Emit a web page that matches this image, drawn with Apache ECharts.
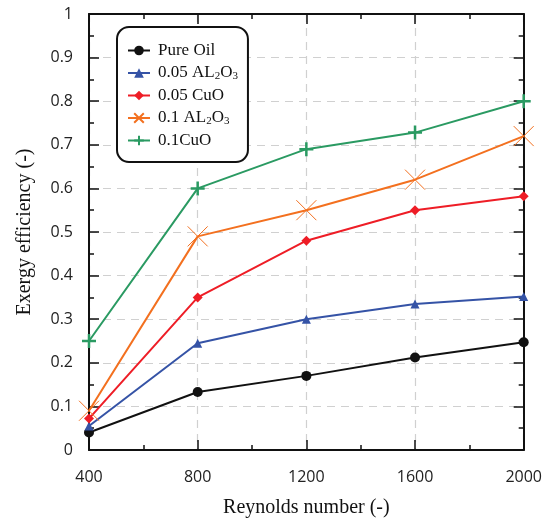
<!DOCTYPE html>
<html><head><meta charset="utf-8">
<script src="https://cdn.jsdelivr.net/npm/echarts@6/dist/echarts.min.js"></script>
<style>html,body{margin:0;padding:0;background:#fff}#c{width:545px;height:523px}</style>
</head><body><div id="c"></div>
<script>
const reynolds = [400, 800, 1200, 1600, 2000];
const pureOil   = [0.040, 0.133, 0.170, 0.212, 0.247];
const al005     = [0.055, 0.245, 0.300, 0.335, 0.352];
const cuo005    = [0.072, 0.350, 0.480, 0.550, 0.582];
const al01      = [0.090, 0.490, 0.550, 0.620, 0.720];
const cuo01     = [0.250, 0.600, 0.690, 0.728, 0.800];
const seriesNames = ['Pure Oil', '0.05 AL2O3', '0.05 CuO', '0.1 AL2O3', '0.1CuO'];
const legendLabels = ['Pure Oil', '0.05 AL{sub|2}O{sub|3}', '0.05 CuO', '0.1 AL{sub|2}O{sub|3}', '0.1CuO'];
const xAxisName = 'Reynolds number (-)';
const yAxisName = 'Exergy efficiency (-)';

const SERIF = 'Liberation Serif';
const SANS = 'Open Sans';
const pairs = arr => reynolds.map((x, i) => [x, arr[i]]);
const colors = ['#111111', '#3553a6', '#ee1d26', '#f3701f', '#2a9a62'];
const dataSets = [pureOil, al005, cuo005, al01, cuo01];
const symbols = ['circle', 'triangle', 'diamond', 'path://M0,0L10,10M10,0L0,10', 'path://M5,0L5,10M0,5L10,5'];
const sizes = [10, 9, 10, 20, 14];

const series = dataSets.map((d, i) => {
  const stroked = i >= 3;
  return {
    name: seriesNames[i], type: 'line', data: pairs(d),
    symbol: symbols[i], symbolSize: sizes[i], showAllSymbol: true,
    lineStyle: { color: colors[i], width: 2 },
    itemStyle: stroked ? { color: 'none', borderColor: colors[i], borderWidth: i === 3 ? 1 : 2.5 } : { color: colors[i] },
    emphasis: { disabled: true }, animation: false, z: 3
  };
});

const tickCommon = { show: true, inside: true, length: 10, lineStyle: { color: '#111', width: 1.5 } };
const minorCommon = { show: true, splitNumber: 2, length: 5, lineStyle: { color: '#111', width: 1.5 } };
const axisLineCommon = { show: true, onZero: false, lineStyle: { color: '#111', width: 2 } };
const dashed = { show: true, lineStyle: { color: '#d0d0d0', type: [8, 6], width: 1.2 } };

const chart = echarts.init(document.getElementById('c'));
chart.setOption({
  animation: false,
  backgroundColor: '#fff',
  grid: { left: 89, right: 16, top: 14, bottom: 73 },
  legend: {
    left: 117, top: 27, orient: 'vertical',
    data: seriesNames,
    formatter: n => legendLabels[seriesNames.indexOf(n)],
    itemWidth: 22, itemHeight: 12, itemGap: 5,
    padding: [15, 10, 13, 10],
    borderColor: '#111', borderWidth: 2, borderRadius: 12,
    backgroundColor: '#fff',
    textStyle: { fontFamily: SERIF, fontSize: 17, lineHeight: 16, color: '#111', padding: [0, 0, 0, 3],
      rich: { sub: { fontFamily: SERIF, fontSize: 11, lineHeight: 16, color: '#111', padding: [7, 0, 0, 0] } } }
  },
  xAxis: [{
    type: 'value', min: 400, max: 2000, interval: 400,
    name: xAxisName, nameLocation: 'middle', nameGap: 48,
    nameTextStyle: { fontFamily: SERIF, fontSize: 20, color: '#111' },
    axisLine: axisLineCommon, axisTick: tickCommon, minorTick: minorCommon,
    axisLabel: { fontFamily: SANS, fontSize: 16, color: '#222', margin: 19, formatter: v => String(v) },
    splitLine: dashed
  }, {
    type: 'value', position: 'top', min: 400, max: 2000, interval: 400,
    axisLine: axisLineCommon, axisTick: tickCommon, minorTick: minorCommon,
    axisLabel: { show: false }, splitLine: { show: false }
  }],
  yAxis: [{
    type: 'value', min: 0, max: 1, interval: 0.1,
    name: yAxisName, nameLocation: 'middle', nameGap: 54, nameRotate: 90,
    nameTextStyle: { fontFamily: SERIF, fontSize: 20, color: '#111' },
    axisLine: axisLineCommon, axisTick: tickCommon, minorTick: minorCommon,
    axisLabel: { fontFamily: SANS, fontSize: 16, color: '#222', margin: 16,
      formatter: v => (Math.round(v * 10) / 10).toString() },
    splitLine: dashed
  }, {
    type: 'value', position: 'right', min: 0, max: 1, interval: 0.1,
    axisLine: axisLineCommon, axisTick: tickCommon, minorTick: minorCommon,
    axisLabel: { show: false }, splitLine: { show: false }
  }],
  series: series
});
</script></body></html>
